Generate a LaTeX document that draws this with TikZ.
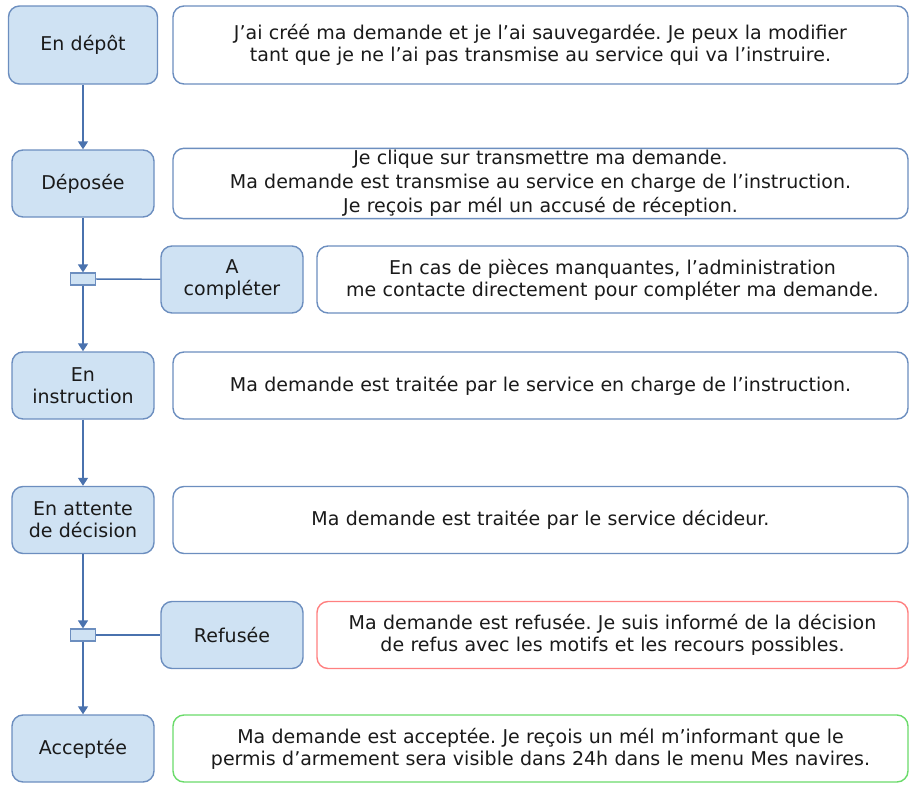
\documentclass[tikz,border=0pt]{standalone}
\usepackage{fontspec}
\setmainfont{DejaVu Sans}
\frenchspacing
\usetikzlibrary{arrows.meta}
\definecolor{etatfond}{HTML}{CFE2F3}
\definecolor{etatbord}{HTML}{6C8EBF}
\definecolor{trait}{HTML}{4A72AE}
\definecolor{rouge}{HTML}{FF8080}
\definecolor{vert}{HTML}{6ADB6A}
\definecolor{texte}{HTML}{1A1A1A}
\tikzstyle{etat} = [rectangle, rounded corners=11pt, minimum width=142pt, minimum height=67pt, text centered, text width=136pt, inner sep=2pt, fill=etatfond, draw=etatbord, line width=1.4pt, text=texte, font=\fontsize{19}{22}\selectfont]
\tikzstyle{info} = [rectangle, rounded corners=11pt, minimum width=735pt, minimum height=67pt, text centered, text width=729pt, inner sep=2pt, fill=white, draw=etatbord, line width=1.4pt, text=texte, font=\fontsize{19}{22}\selectfont]
\tikzstyle{barre} = [rectangle, minimum width=25pt, minimum height=12pt, inner sep=0pt, fill=etatfond, draw=etatbord, line width=1.2pt]
\tikzstyle{lien} = [trait, line width=1.4pt]
\tikzstyle{arrow} = [lien, -{Triangle[width=10pt,length=8pt]}]

\begin{document}
\begin{tikzpicture}[x=1pt, y=-1pt]
               \useasboundingbox (0,0) rectangle (914,787);
               \node [etat, minimum width=149pt, minimum height=78pt] at (83,45) (depot) {En dépôt};
               \node [etat] at (83,183.5) (deposee) {Déposée};
               \node [barre] at (83,279) (bar1) {};
               \node [etat] at (232,279.5) (completer) {A\\compléter};
               \node [etat] at (83,385.5) (instruction) {En\\instruction};
               \node [etat] at (83,520) (attente) {En attente\\de décision};
               \node [barre] at (83,635) (bar2) {};
               \node [etat] at (232,635) (refusee) {Refusée};
               \node [etat] at (83,748.5) (acceptee) {Acceptée};
               \node [info, minimum height=78pt] at (540.5,45) (txt1) {J’ai créé ma demande et je l’ai sauvegardée. Je peux la modifier\\tant que je ne l’ai pas transmise au service qui va l’instruire.};
               \node [info, font=\fontsize{19}{24}\selectfont] at (540.5,183.5) (txt2) {Je clique sur transmettre ma demande.\\Ma demande est transmise au service en charge de l’instruction.\\Je reçois par mél un accusé de réception.};
               \node [info, minimum width=591pt, text width=585pt] at (612.5,279.5) (txt3) {En cas de pièces manquantes, l’administration\\me contacte directement pour compléter ma demande.};
               \node [info] at (540.5,385.5) (txt4) {Ma demande est traitée par le service en charge de l’instruction.};
               \node [info] at (540.5,520) (txt5) {Ma demande est traitée par le service décideur.};
               \node [info, minimum width=591pt, text width=585pt, draw=rouge] at (612.5,635) (txt6) {Ma demande est refusée. Je suis informé de la décision\\de refus avec les motifs et les recours possibles.};
               \node [info, draw=vert] at (540.5,748.5) (txt7) {Ma demande est acceptée. Je reçois un mél m’informant que le\\permis d’armement sera visible dans 24h dans le menu Mes navires.};
               \draw [arrow] (depot) -- (deposee);
               \draw [arrow] (deposee) -- (bar1);
               \draw [arrow] (bar1) -- (instruction);
               \draw [lien] (bar1) -- (completer);
               \draw [arrow] (instruction) -- (attente);
               \draw [arrow] (attente) -- (bar2);
               \draw [arrow] (bar2) -- (acceptee);
               \draw [lien] (bar2) -- (refusee);
               \end{tikzpicture}
\end{document}
